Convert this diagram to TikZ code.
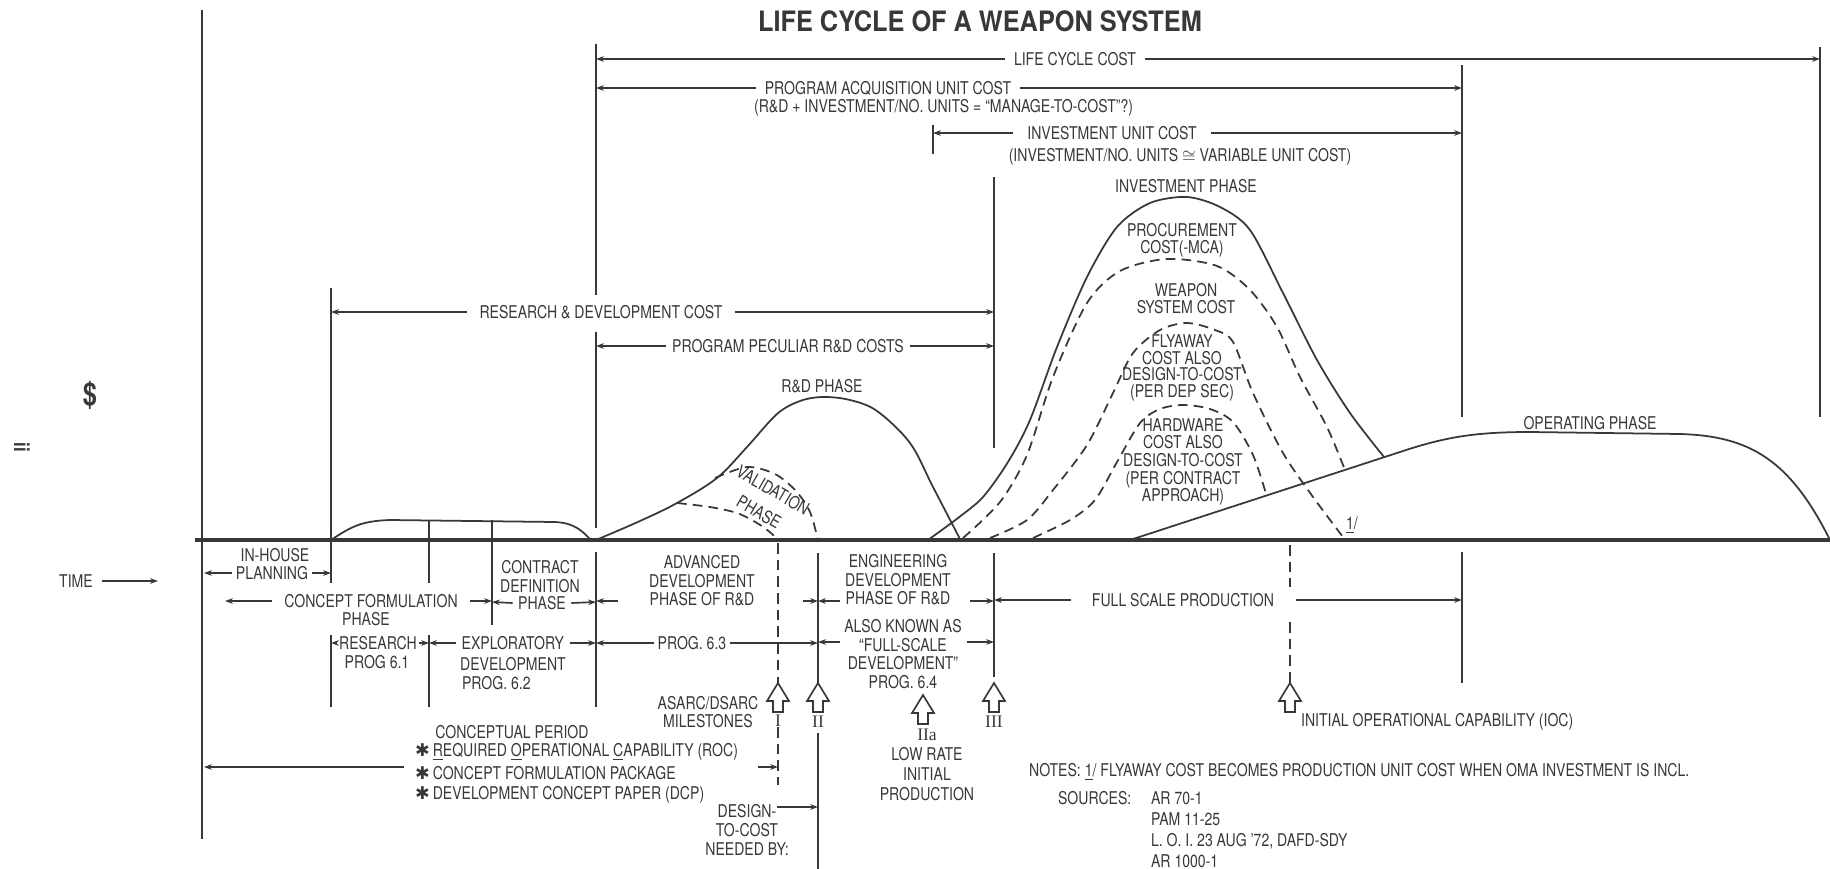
\documentclass[tikz,border=0pt]{standalone}
\usepackage{fontspec}
\setmainfont{TeX Gyre Heros}[FakeStretch=0.8]
\newfontfamily\titlefont{TeX Gyre Heros}[FakeStretch=0.9]
\newfontfamily\romfont{Liberation Serif}
\newfontfamily\symfont{DejaVu Sans}
\usetikzlibrary{arrows.meta}
\definecolor{ink}{gray}{0.22}
\newcommand\lbl{\fontsize{10}{10.5}\selectfont}
\newcommand\lbs{\fontsize{10}{9.6}\selectfont}
\newcommand\strk{{\symfont ✱}\,}

\begin{document}
\begin{tikzpicture}[x=0.02cm, y=-0.02cm,
    >={Stealth[length=4.5pt, width=3.2pt]},
    every node/.style={inner sep=1pt, align=center, text=ink, font=\lbl},
    rule/.style={draw=ink, line width=0.95pt},
    dashrule/.style={rule, dash pattern=on 6pt off 3.5pt},
    curve/.style={draw=ink, line width=1pt},
    dcurve/.style={curve, dash pattern=on 5.5pt off 3.5pt},
    brk/.style={inner xsep=5pt},
    numeral/.style={font=\romfont\fontsize{10}{10}\selectfont},
    mile/.pic={\draw[rule, fill=white] (0,0) -- (-11,18) -- (-5,18) -- (-5,29) -- (5,29) -- (5,18) -- (11,18) -- cycle;}]
    \useasboundingbox (0,0) rectangle (1830,869);

    % Title
    \node[font=\titlefont\bfseries\fontsize{16}{18}\selectfont] (title) at (980,21) {LIFE CYCLE OF A WEAPON SYSTEM};

    % Frame, time axis and phase markers
    \draw[rule] (202,10) -- (202,839);
    \draw[draw=ink, line width=2pt] (195,540) -- (1830,540);
    \draw[rule] (596,44) -- (596,295) (596,332) -- (596,528) (596,552) -- (596,707);
    \draw[rule] (331,288) -- (331,583) (331,635) -- (331,707);
    \draw[rule] (429,520) -- (429,583) (429,635) -- (429,707);
    \draw[rule] (492,520) -- (492,625);
    \draw[rule] (933,125) -- (933,154);
    \draw[rule] (994,177) -- (994,448) (994,553) -- (994,677);
    \draw[rule] (1462,65) -- (1462,417) (1462,552) -- (1462,683);
    \draw[rule] (1820,47) -- (1820,417);
    \draw[rule] (818,553) -- (818,683) (818,733) -- (818,869);
    \draw[dashrule] (778,543) -- (778,683) (778,727) -- (778,785);
    \draw[dashrule] (1290,545) -- (1290,587) (1290,622) -- (1290,683);

    % Cost curves
    \draw[curve] (331,540) .. controls (352,526) and (362,521) .. (390,520) -- (555,522) .. controls (575,523) and (582,531) .. (591,540);
    \draw[curve] plot[smooth, tension=0.55] coordinates {(596,540) (640,521) (677,503) (717,478) (747,447) (777,414) (800,401) (823,397) (850,400) (877,411) (910,443) (933,487) (961,541)};
    \draw[dcurve] plot[smooth] coordinates {(715,478) (747,467) (775,474) (796,491) (810,512) (818,540)};
    \draw[dcurve] plot[smooth] coordinates {(677,503) (710,507) (737,513) (757,523) (771,533) (778,541)};
    \draw[curve] plot[smooth] coordinates {(928,540) (958,518) (983,497) (1008,462) (1030,420) (1057,347) (1087,277) (1117,227) (1150,203) (1187,197) (1220,207) (1250,230) (1283,293) (1317,360) (1350,413) (1384,457)};
    \draw[dcurve] plot[smooth] coordinates {(963,538) (1000,502) (1027,455) (1053,377) (1087,303) (1120,271) (1167,259) (1217,266) (1250,290) (1277,327) (1300,377) (1327,427) (1345,470)};
    \draw[dcurve] plot[smooth] coordinates {(990,538) (1027,520) (1053,490) (1087,445) (1113,393) (1133,353) (1160,330) (1187,323) (1215,330) (1233,342) (1253,393) (1283,453) (1313,497) (1343,537)};
    \draw[dcurve] plot[smooth] coordinates {(1033,538) (1070,520) (1095,500) (1117,462) (1140,423) (1160,409) (1183,405) (1210,409) (1233,422) (1253,455) (1267,497)};
    \draw[curve] (1130,540) -- (1400,452) .. controls (1445,437) and (1475,432) .. (1530,432) -- (1680,434) .. controls (1750,436) and (1790,460) .. (1830,540);

    % Curve labels
    \node (rdph) at (822,386) {R\&D PHASE};
    \node[rotate=-30, inner sep=0pt] (val) at (773,490) {VALIDATION};
    \node[rotate=-30, inner sep=0pt] (valph) at (759,512) {PHASE};
    \node (invph) at (1186,186) {INVESTMENT PHASE};
    \node[font=\lbs] (proc) at (1182,240) {PROCUREMENT\\COST(-MCA)};
    \node[font=\lbs] (wsc) at (1186,299) {WEAPON\\SYSTEM COST};
    \node[font=\lbs] (fly) at (1182,368) {FLYAWAY\\COST ALSO\\DESIGN-TO-COST\\(PER DEP SEC)};
    \node[font=\fontsize{10}{10}\selectfont] (hw) at (1183,462) {HARDWARE\\COST ALSO\\DESIGN-TO-COST\\(PER CONTRACT\\APPROACH)};
    \node (note1) at (1352,525) {\underline{1}/};
    \node (oper) at (1590,423) {OPERATING PHASE};

    % Axis labels
    \node[font=\bfseries\fontsize{18}{18}\selectfont] (dollar) at (90,395) {\$};
    \node[rotate=-90, font=\bfseries\fontsize{12}{12}\selectfont] (pgno) at (22,447) {ii};
    \node[brk] (time) at (76,581) {TIME};
    \coordinate (timeR) at (158,581);
    \draw[->, rule] (time.east) -- (timeR);

    % Cost brackets
    \node[brk] (lcc) at (1075,59) {LIFE CYCLE COST};
    \coordinate (lccL) at (596,59);
    \coordinate (lccR) at (1820,59);
    \draw[->, rule] (lcc.west) -- (lccL);
    \draw[->, rule] (lcc.east) -- (lccR);

    \node[brk] (pauc) at (888,88) {PROGRAM ACQUISITION UNIT COST};
    \node[anchor=west] (pauc2) at (752,108) {(R\&D + INVESTMENT/NO. UNITS = ``MANAGE-TO-COST''?)};
    \coordinate (paucL) at (596,88);
    \coordinate (paucR) at (1462,88);
    \draw[->, rule] (pauc.west) -- (paucL);
    \draw[->, rule] (pauc.east) -- (paucR);

    \node[inner xsep=8pt, inner ysep=0pt] (iuc) at (1112,133) {INVESTMENT UNIT COST};
    \node[inner ysep=0pt] (iuc2) at (1180,157) {(INVESTMENT/NO. UNITS $\cong$ VARIABLE UNIT COST)};
    \coordinate (iucL) at (933,133);
    \coordinate (iucR) at (1462,133);
    \draw[->, rule] (iuc.west) -- (iucL);
    \draw[->, rule] (iuc.east) -- (iucR);

    \node[inner xsep=7pt] (rdc) at (601,312) {RESEARCH \& DEVELOPMENT COST};
    \coordinate (rdcL) at (331,312);
    \coordinate (rdcR) at (994,312);
    \draw[->, rule] (rdc.west) -- (rdcL);
    \draw[->, rule] (rdc.east) -- (rdcR);

    \node[inner xsep=3.5pt] (pprd) at (788,346) {PROGRAM PECULIAR R\&D COSTS};
    \coordinate (pprdL) at (596,346);
    \coordinate (pprdR) at (994,346);
    \draw[->, rule] (pprd.west) -- (pprdL);
    \draw[->, rule] (pprd.east) -- (pprdR);

    % Phases
    \node (inh) at (275,555) {IN-HOUSE};
    \node[inner xsep=2pt] (plan) at (272,573) {PLANNING};
    \coordinate (planL) at (204,573);
    \coordinate (planR) at (331,573);
    \draw[->, rule] (plan.west) -- (planL);
    \draw[->, rule] (plan.east) -- (planR);

    \node[inner xsep=7pt] (cf) at (371,601) {CONCEPT FORMULATION};
    \node (cfph) at (366,619) {PHASE};
    \coordinate (cfL) at (225,601);
    \coordinate (cfR) at (492,601);
    \draw[->, rule] (cf.west) -- (cfL);
    \draw[->, rule] (cf.east) -- (cfR);

    \node (cd1) at (540,567) {CONTRACT};
    \node (cd2) at (540,586) {DEFINITION};
    \node[inner xsep=3pt] (cd3) at (542,603) {PHASE};
    \coordinate (cdL) at (492,602);
    \coordinate (cdR) at (596,602);
    \draw[->, rule] (cd3.west) -- (cdL);
    \draw[->, rule] (cd3.east) -- (cdR);

    \node (adv) at (702,581) {ADVANCED\\DEVELOPMENT\\PHASE OF R\&D};
    \coordinate (advL) at (596,601);
    \coordinate (advLt) at (618,601);
    \coordinate (advRt) at (803,601);
    \coordinate (advR) at (818,601);
    \draw[->, rule] (advLt) -- (advL);
    \draw[->, rule] (advRt) -- (advR);

    \node (eng) at (898,580) {ENGINEERING\\DEVELOPMENT\\PHASE OF R\&D};
    \coordinate (engL) at (818,601);
    \coordinate (engLt) at (840,601);
    \coordinate (engRt) at (970,601);
    \coordinate (engR) at (994,601);
    \draw[->, rule] (engLt) -- (engL);
    \draw[->, rule] (engRt) -- (engR);

    \node[inner xsep=12pt] (fsp) at (1183,600) {FULL SCALE PRODUCTION};
    \coordinate (fspL) at (994,600);
    \coordinate (fspR) at (1462,600);
    \draw[->, rule] (fsp.west) -- (fspL);
    \draw[->, rule] (fsp.east) -- (fspR);

    % Programs
    \node (res) at (378,643) {RESEARCH};
    \node (p61) at (377,662) {PROG 6.1};
    \coordinate (resL) at (331,643);
    \coordinate (resR) at (429,643);
    \draw[->, rule] (res.west) -- (resL);
    \draw[->, rule] (res.east) -- (resR);

    \node[anchor=west, inner xsep=3pt] (expl) at (456,643) {EXPLORATORY};
    \node[anchor=west] (expl2) at (458,664) {DEVELOPMENT};
    \node[anchor=west] (expl3) at (460,683) {PROG. 6.2};
    \coordinate (explL) at (429,643);
    \coordinate (explR) at (596,643);
    \draw[->, rule] (expl.west) -- (explL);
    \draw[->, rule] (expl.east) -- (explR);

    \node[inner xsep=2pt] (p63) at (692,643) {PROG. 6.3};
    \coordinate (p63L) at (596,643);
    \coordinate (p63R) at (818,643);
    \draw[->, rule] (p63.west) -- (p63L);
    \draw[->, rule] (p63.east) -- (p63R);

    \node (aka) at (903,654) {ALSO KNOWN AS\\``FULL-SCALE\\DEVELOPMENT''\\PROG. 6.4};
    \coordinate (akaL) at (818,642);
    \coordinate (akaLt) at (840,642);
    \coordinate (akaRt) at (967,642);
    \coordinate (akaR) at (994,642);
    \draw[->, rule] (akaLt) -- (akaL);
    \draw[->, rule] (akaRt) -- (akaR);

    % Milestones
    \pic (msI) at (778,683) {mile};
    \pic (msII) at (818,683) {mile};
    \pic (msIIa) at (923,695) {mile};
    \pic (msIII) at (994,683) {mile};
    \pic (msIOC) at (1290,683) {mile};
    \node[numeral] (lI) at (778,721) {I};
    \node[numeral] (lII) at (818,722) {II};
    \node[numeral] (lIIa) at (927,735) {IIa};
    \node[numeral] (lIII) at (994,722) {III};
    \node (asarc) at (708,712) {ASARC/DSARC\\MILESTONES};
    \node[anchor=west] (ioc) at (1299,722) {INITIAL OPERATIONAL CAPABILITY (IOC)};
    \node[font=\fontsize{10}{11.6}\selectfont] (lrip) at (927,774) {LOW RATE\\INITIAL\\PRODUCTION};

    % Conceptual period
    \node (cpd) at (512,732) {CONCEPTUAL PERIOD};
    \node[anchor=west] (roc) at (413,752) {\strk\underline{R}EQUIRED \underline{O}PERATIONAL \underline{C}APABILITY (ROC)};
    \node[anchor=west] (cfp) at (413,773) {\strk CONCEPT FORMULATION PACKAGE};
    \node[anchor=west] (dcp) at (413,795) {\strk DEVELOPMENT CONCEPT PAPER (DCP)};
    \coordinate (cpL) at (204,767);
    \coordinate (cpLt) at (404,767);
    \coordinate (cpRt) at (758,767);
    \coordinate (cpR) at (778,767);
    \draw[->, rule] (cpLt) -- (cpL);
    \draw[->, rule] (cpRt) -- (cpR);

    \node[font=\fontsize{10}{11}\selectfont] (dtc) at (747,830) {DESIGN-\\TO-COST\\NEEDED BY:};
    \coordinate (dtcA) at (777,807);
    \coordinate (dtcB) at (818,807);
    \draw[->, rule] (dtcA) -- (dtcB);

    % Notes
    \node[anchor=west] (notes) at (1027,772) {NOTES: \underline{1}/ FLYAWAY COST BECOMES PRODUCTION UNIT COST WHEN OMA INVESTMENT IS INCL.};
    \node[anchor=west] (src) at (1056,798) {SOURCES:};
    \node[anchor=west, align=left, font=\fontsize{10}{12}\selectfont] (srcs) at (1149,830) {AR 70-1\\PAM 11-25\\L. O. I. 23 AUG '72, DAFD-SDY\\AR 1000-1};
\end{tikzpicture}
\end{document}
